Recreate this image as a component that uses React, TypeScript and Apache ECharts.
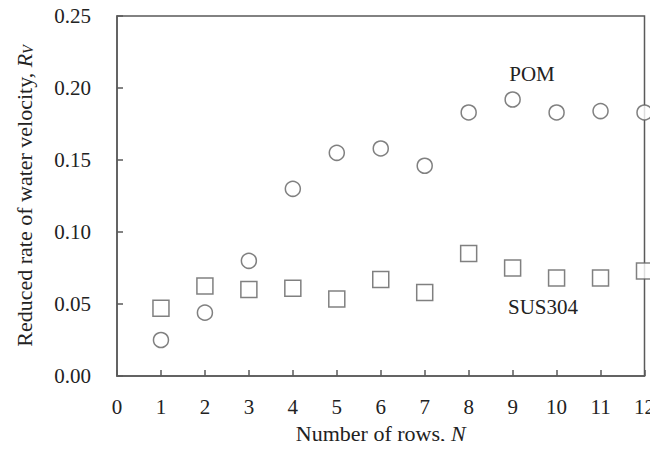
import React, { useEffect, useRef } from "react";
import * as echarts from "echarts";

const rows = [1, 2, 3, 4, 5, 6, 7, 8, 9, 10, 11, 12];
const pomValues = [0.025, 0.044, 0.080, 0.130, 0.155, 0.158, 0.146, 0.183, 0.192, 0.183, 0.184, 0.183];
const susValues = [0.047, 0.0625, 0.060, 0.061, 0.0535, 0.067, 0.058, 0.085, 0.075, 0.068, 0.068, 0.073];
const seriesNames = ["POM", "SUS304"];

const FONT = "'Liberation Serif', 'Times New Roman', serif";
const AXIS_COLOR = "#5a5a5a";
const TEXT_COLOR = "#222";

export default function App() {
  const ref = useRef<HTMLDivElement>(null);
  useEffect(() => {
    if (!ref.current) return;
    const chart = echarts.init(ref.current, undefined, { renderer: "svg" });
    chart.setOption({
      animation: false,
      backgroundColor: "#fff",
      grid: {
        left: 117,
        right: 8,
        top: 16,
        bottom: 73,
        show: true,
        borderColor: AXIS_COLOR,
        borderWidth: 1.5,
        backgroundColor: "transparent",
      },
      xAxis: {
        type: "value",
        min: 0,
        max: 12,
        interval: 1,
        name: "Number of rows, {i|N}",
        nameLocation: "middle",
        nameGap: 46,
        nameTextStyle: {
          fontFamily: FONT,
          fontSize: 22,
          color: TEXT_COLOR,
          rich: { i: { fontFamily: FONT, fontSize: 22, fontStyle: "italic", color: TEXT_COLOR } },
        },
        axisLine: { show: true, lineStyle: { color: AXIS_COLOR, width: 1.5 } },
        axisTick: { show: true, inside: true, length: 6, lineStyle: { color: AXIS_COLOR, width: 1.5 } },
        axisLabel: { fontFamily: FONT, fontSize: 21, color: TEXT_COLOR, margin: 20 },
        splitLine: { show: false },
      },
      yAxis: {
        type: "value",
        min: 0,
        max: 0.25,
        interval: 0.05,
        name: "Reduced rate of water velocity, {i|R}{s|V}",
        nameLocation: "middle",
        nameRotate: 90,
        nameGap: 82,
        nameTextStyle: {
          fontFamily: FONT,
          fontSize: 22,
          color: TEXT_COLOR,
          rich: {
            i: { fontFamily: FONT, fontSize: 22, fontStyle: "italic", color: TEXT_COLOR },
            s: { fontFamily: FONT, fontSize: 14, fontStyle: "italic", color: TEXT_COLOR, verticalAlign: "bottom", padding: [8, 0, 0, 0] },
          },
        },
        axisLine: { show: true, lineStyle: { color: AXIS_COLOR, width: 1.5 } },
        axisTick: { show: true, inside: true, length: 6, lineStyle: { color: AXIS_COLOR, width: 1.5 } },
        axisLabel: {
          fontFamily: FONT,
          fontSize: 21,
          color: TEXT_COLOR,
          margin: 26,
          formatter: (v: number) => v.toFixed(2),
        },
        splitLine: { show: false },
      },
      series: [
        {
          name: seriesNames[0],
          type: "scatter",
          symbol: "circle",
          symbolSize: 15,
          clip: false,
          itemStyle: { color: "#fff", borderColor: "#606060", borderWidth: 1.5 },
          data: rows.map((n, i) => [n, pomValues[i]]),
          z: 5,
        },
        {
          name: seriesNames[1],
          type: "scatter",
          symbol: "rect",
          symbolSize: 16,
          clip: false,
          itemStyle: { color: "#fff", borderColor: "#606060", borderWidth: 1.5 },
          data: rows.map((n, i) => [n, susValues[i]]),
          z: 5,
        },
      ],
      graphic: [
        {
          type: "text",
          x: 532,
          y: 74,
          style: {
            text: seriesNames[0],
            fontFamily: FONT,
            fontSize: 21,
            fill: TEXT_COLOR,
            align: "center",
            verticalAlign: "middle",
          },
        },
        {
          type: "text",
          x: 543,
          y: 307,
          style: {
            text: seriesNames[1],
            fontFamily: FONT,
            fontSize: 21,
            fill: TEXT_COLOR,
            align: "center",
            verticalAlign: "middle",
          },
        },
      ],
    });
    return () => chart.dispose();
  }, []);
  return <div ref={ref} style={{ width: 658, height: 449, margin: -8 }} />;
}
